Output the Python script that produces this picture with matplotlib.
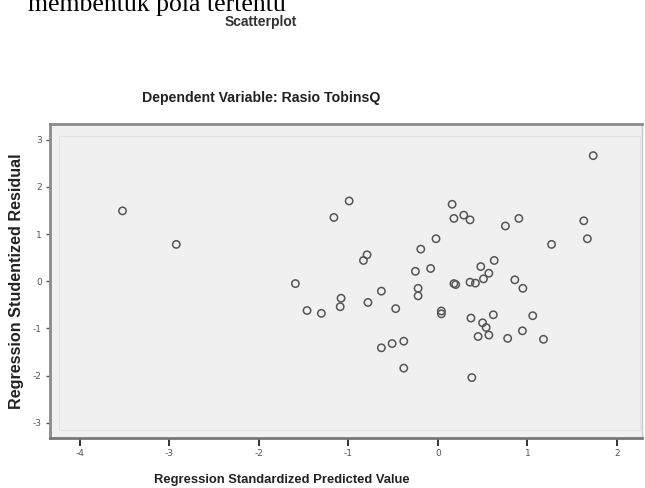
import matplotlib
matplotlib.use("Agg")
import matplotlib.pyplot as plt
from matplotlib.patches import Rectangle

plt.rcParams['axes.unicode_minus'] = False

# Data
predicted = [-3.52, -2.92, -0.99, -1.16, -1.59, -1.08, -1.09, -1.46, -1.30,
             1.735, 0.16, 0.18, 0.29, 0.36, 0.755, 0.905, 1.63, 1.67, 1.27,
             -0.02, -0.19, -0.79, -0.83, -0.08, -0.25, 0.63, 0.48, 0.57, 0.51,
             0.18, 0.20, 0.36, 0.42, 0.86, 0.95, -0.63, -0.22, -0.22, -0.78,
             -0.47, 0.04, 0.04, 0.37, 0.50, 0.54, 0.62, 0.45, 0.57, 0.78,
             0.945, 1.06, 1.18, -0.63, -0.51, -0.38, -0.38, 0.38]
residual = [1.49, 0.78, 1.70, 1.35, -0.05, -0.36, -0.54, -0.62, -0.68,
            2.66, 1.63, 1.33, 1.40, 1.30, 1.17, 1.33, 1.28, 0.90, 0.78,
            0.90, 0.68, 0.56, 0.44, 0.27, 0.21, 0.44, 0.31, 0.17, 0.05,
            -0.05, -0.07, -0.02, -0.04, 0.03, -0.15, -0.21, -0.15, -0.31, -0.45,
            -0.58, -0.63, -0.69, -0.78, -0.88, -0.98, -0.71, -1.17, -1.14, -1.21,
            -1.05, -0.73, -1.23, -1.41, -1.32, -1.27, -1.84, -2.04]
x_ticks = [-4, -3, -2, -1, 0, 1, 2]
y_ticks = [-3, -2, -1, 0, 1, 2, 3]

fig = plt.figure(figsize=(6.45, 4.88), dpi=100)
fig.patch.set_facecolor('white')

W, H = 645, 488
left, right, top, bottom = 50, 642, 124, 438
ax = fig.add_axes([left / W, 1 - bottom / H, (right - left) / W, (bottom - top) / H])
ax.set_facecolor('#f0f0f0')

ax.scatter(predicted, residual, s=28, facecolors='none', edgecolors='#555555',
           linewidths=1.1, zorder=3)

ax.set_xlim(-4.33, 2.28)
ax.set_ylim(-3.32, 3.33)

ax.set_xticks(x_ticks)
ax.set_yticks(y_ticks)
ax.set_xticklabels([str(t) for t in x_ticks])
ax.set_yticklabels([str(t) for t in y_ticks])
ax.tick_params(axis='x', length=6, width=1.4, color='#333333', labelsize=6.5,
               labelcolor='#555555', pad=2)
ax.tick_params(axis='y', length=3, width=1.0, color='#555555', labelsize=6.5,
               labelcolor='#555555', pad=3)

for name, sp in ax.spines.items():
    sp.set_color('#8a8a8a')
    sp.set_linewidth(2.0)
ax.spines['bottom'].set_color('#777777')
ax.spines['right'].set_color('#c8c8c8')
ax.spines['right'].set_linewidth(1.0)

# faint inner frame
ax.add_patch(Rectangle((9 / (right - left), 8 / (bottom - top)),
                       1 - 11 / (right - left), 1 - 20 / (bottom - top),
                       transform=ax.transAxes, fill=False, edgecolor='#e2e2e2',
                       linewidth=0.8, zorder=1))

# texts
fig.text(28 / W, 1 - 11 / H, 'membentuk pola tertentu', family='Liberation Serif',
         fontsize=18.5, color='black', ha='left', va='baseline')
fig.text(261 / W, 1 - 22 / H, 'Scatterplot', family='Liberation Sans',
         fontweight='bold', fontsize=10, color='#333333', ha='center', va='center')
fig.text(261 / W, 1 - 98 / H, 'Dependent Variable: Rasio TobinsQ',
         family='Liberation Sans', fontweight='bold', fontsize=10.2,
         color='#222222', ha='center', va='center')
fig.text(282 / W, 1 - 480 / H, 'Regression Standardized Predicted Value',
         family='Liberation Sans', fontweight='bold', fontsize=9.4,
         color='#222222', ha='center', va='center')
fig.text(17 / W, 1 - 281 / H, 'Regression Studentized Residual',
         family='Liberation Sans', fontweight='bold', fontsize=11.6,
         color='#222222', ha='center', va='center', rotation=90)

fig.savefig('out.png', dpi=100)
